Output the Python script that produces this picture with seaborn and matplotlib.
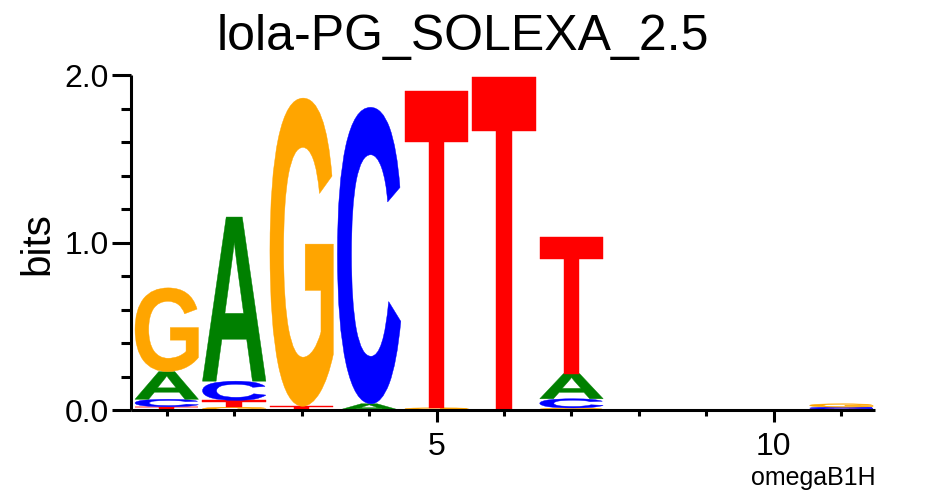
import numpy as np
import pandas as pd
import seaborn as sns
import matplotlib
matplotlib.use("Agg")
import matplotlib.pyplot as plt
from matplotlib.textpath import TextPath
from matplotlib.patches import PathPatch
from matplotlib.font_manager import FontProperties
from matplotlib.transforms import Affine2D

# ---- data (bits per letter per position) ----
positions = list(range(1, 12))
bits_A = [0.165, 0.98, 0.0, 0.04, 0.004, 0.0, 0.15, 0.0, 0.0, 0.0, 0.004]
bits_C = [0.045, 0.115, 0.0, 1.77, 0.0, 0.0, 0.055, 0.0, 0.0, 0.0, 0.012]
bits_G = [0.50, 0.02, 1.84, 0.0, 0.012, 0.0, 0.015, 0.0, 0.0, 0.0, 0.02]
bits_T = [0.022, 0.04, 0.025, 0.0, 1.89, 1.993, 0.815, 0.0, 0.0, 0.0, 0.004]
title = "lola-PG_SOLEXA_2.5"
y_label = "bits"
corner_label = "omegaB1H"
x_major = [5, 10]
y_major = [0.0, 1.0, 2.0]
y_major_labels = ["0.0", "1.0", "2.0"]

colors = {"A": "#008000", "C": "#0000ff", "G": "#ffa500", "T": "#ff0000"}

df = pd.DataFrame({"pos": positions, "A": bits_A, "C": bits_C, "G": bits_G, "T": bits_T})
long = df.melt(id_vars="pos", var_name="letter", value_name="bits")

sns.set_style("ticks")
plt.rcParams["font.family"] = ["Liberation Sans", "DejaVu Sans"]
plt.rcParams["text.color"] = "black"
plt.rcParams["axes.labelcolor"] = "black"
plt.rcParams["xtick.color"] = "black"
plt.rcParams["ytick.color"] = "black"
plt.rcParams["xtick.labelcolor"] = "black"
plt.rcParams["ytick.labelcolor"] = "black"

fig = plt.figure(figsize=(9.25, 4.96), dpi=100)
ax = fig.add_axes([0.1416, 0.1724, 0.8044, 0.6754])

glyph_font = FontProperties(family="Liberation Sans", weight="bold")
glyph_w = 0.94


def draw_letter(ax, letter, x, y0, h):
    if h <= 0:
        return
    tp = TextPath((0, 0), letter, size=100, prop=glyph_font)
    bb = tp.get_extents()
    t = (Affine2D().translate(-bb.x0, -bb.y0)
         .scale(glyph_w / bb.width, h / bb.height)
         .translate(x - glyph_w / 2, y0))
    path = t.transform_path(tp)
    ax.add_patch(PathPatch(path, facecolor=colors[letter], edgecolor=colors[letter],
                           lw=0.3, transform=ax.transData))


for pos, grp in long.groupby("pos"):
    grp = grp.sort_values("bits")
    y0 = 0.0
    for _, row in grp.iterrows():
        draw_letter(ax, row["letter"], pos, y0, row["bits"])
        y0 += row["bits"]

ax.set_xlim(0.47, 11.5)
ax.set_ylim(0.0, 2.0)
ax.set_xticks(x_major)
ax.set_xticklabels([str(v) for v in x_major])
ax.set_xticks(positions, minor=True)
ax.set_yticks(y_major)
ax.set_yticklabels(y_major_labels)
ax.set_yticks(np.round(np.arange(0, 2.01, 0.2), 2), minor=True)

ax.tick_params(axis="x", which="major", length=8.6, width=2.2, labelsize=23, pad=7, color="black", labelcolor="black")
ax.tick_params(axis="x", which="minor", length=4.3, width=2.2, color="black")
ax.tick_params(axis="y", which="major", length=14, width=2.2, labelsize=23, pad=2, color="black", labelcolor="black")
ax.tick_params(axis="y", which="minor", length=7, width=2.2, color="black")

sns.despine(ax=ax)
for s in ("left", "bottom"):
    ax.spines[s].set_linewidth(2.2)
    ax.spines[s].set_color("black")
    ax.spines[s].set_capstyle("butt")

fig.text(0.5, 1 - 50 / 496, title, ha="center", va="baseline", fontsize=36, color="black")
fig.text(37 / 925, 1 - 243.5 / 496, y_label, rotation=90, ha="center", va="center", fontsize=29, color="black")
fig.text(876 / 925, 1 - 485 / 496, corner_label, ha="right", va="baseline", fontsize=18, color="black")

fig.savefig("out.png", dpi=100)
